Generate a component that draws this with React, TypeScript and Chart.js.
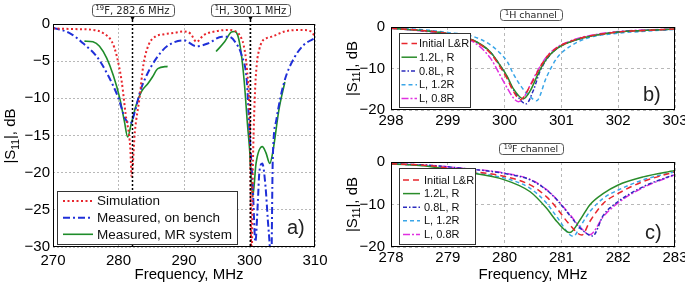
import { useEffect, useRef } from "react";
import { Chart, registerables } from "chart.js";

Chart.register(...registerables);

// ================= Panel a) =================
const simFreq = [270, 272, 274, 276.2, 277.7, 279.0, 279.7, 280.5, 281.1, 281.8, 282.0, 282.5, 283.2, 283.8, 284.6, 285.6, 286.8, 288.5, 289.9, 291.0, 291.9, 293.0, 294.7, 296.8, 297.8, 298.3, 298.8, 299.1, 299.6, 300.0, 300.15, 300.3, 300.5, 300.8, 301.1, 301.5, 301.9, 302.6, 303.4, 305.4, 307.7, 309.4, 310];
const simDb = [-0.6, -0.65, -0.7, -0.8, -1.25, -2.4, -4.2, -7.8, -12.2, -16.7, -20.5, -14.5, -10, -5.5, -2.8, -1.7, -1.4, -1.2, -1.0, -1.3, -2.4, -1.5, -1.0, -0.8, -0.95, -1.25, -2.0, -2.8, -6, -12.2, -20, -34, -20, -10, -5.5, -3.4, -2.4, -1.9, -1.7, -1.0, -0.8, -1.0, -1.7];

const benchFreq = [270, 272.6, 274.6, 276.7, 278.4, 280.0, 281.0, 281.8, 282.5, 283.3, 284.3, 285.8, 287.4, 290.0, 291.9, 293.7, 295.8, 296.8, 297.8, 298.8, 299.6, 300.0, 300.5, 300.9, 301.27, 301.5, 301.95, 302.45, 302.8, 303.1, 303.3, 303.55, 304.1, 305.3, 306.8, 308.3, 310];
const benchDb = [-0.5, -1.25, -2.6, -4.4, -6.9, -10, -12.7, -13.4, -11.8, -9.1, -6.9, -4.6, -3.0, -2.2, -3.0, -2.6, -1.7, -1.7, -2.4, -4.2, -7.8, -14.5, -21.9, -29.3, -24, -20, -18.75, -21.9, -26.4, -30, -34, -18.3, -12.9, -7.8, -4.6, -2.8, -1.9];

const mrFreq = [274.8, 276.1, 277.1, 278.2, 279.2, 280.2, 280.9, 281.4, 281.9, 282.7, 283.5, 284.5, 285.2, 286.0, 287.5, 291.0, 294.9, 296.2, 297.2, 297.7, 298.2, 298.7, 299.2, 299.7, 300.0, 300.5, 301.0, 301.95, 302.5, 303.1, 303.6, 304.5, 305.4];
const mrDb = [-2.3, -2.4, -3.0, -4.6, -6.9, -10, -13.1, -15.2, -13.6, -10.9, -9.1, -8.0, -7.1, -6.0, -5.7, null, -3.7, -2.4, -1.1, -1.0, -1.5, -3.7, -7.8, -13.6, -16.7, -23.2, -18.75, -16.5, -17.3, -18.75, -17, -11.5, -7.8];

const seriesLabelsA = ["Simulation", "Measured, on bench", "Measured, MR system"];
const markerFreq = [282.0, 300.1];
const markerIsotope = ["19", "1"];
const markerText = ["F, 282.6 MHz", "H, 300.1 MHz"];
const xTicksA = [270, 280, 290, 300, 310];
const yTicksA = [0, -5, -10, -15, -20, -25, -30];

// ================= Panel b) 1H channel =================
const seriesLabelsBC = ["Initial L&R", "1.2L, R", "0.8L, R", "L, 1.2R", "L, 0.8R"];

const hInitF = [298, 298.5, 299, 299.45, 299.75, 299.92, 300.05, 300.15, 300.28, 300.45, 300.62, 300.75, 300.92, 301.15, 301.45, 302, 302.5, 303];
const hInitDb = [-0.3, -0.8, -1.6, -3.3, -6.3, -9.6, -12.6, -15.4, -17.5, -14.2, -9.8, -7.1, -5.0, -3.5, -2.3, -1.2, -0.8, -0.5];
const h12LF = [298, 298.5, 299, 299.45, 299.75, 299.92, 300.05, 300.15, 300.33, 300.45, 300.62, 300.75, 300.92, 301.15, 301.45, 302, 302.5, 303];
const h12LDb = [-0.3, -0.8, -1.6, -3.2, -6.0, -9.2, -12.0, -14.8, -17.3, -15.4, -10.4, -7.5, -5.2, -3.6, -2.4, -1.2, -0.8, -0.5];
const h08LF = [298, 298.5, 299, 299.45, 299.75, 299.92, 300.05, 300.15, 300.38, 300.5, 300.62, 300.75, 300.92, 301.15, 301.45, 302, 302.5, 303];
const h08LDb = [-0.3, -0.8, -1.6, -3.2, -6.1, -9.3, -12.2, -15.0, -18.5, -15.5, -10.8, -7.6, -5.2, -3.6, -2.4, -1.2, -0.8, -0.5];
const h12RF = [298, 298.5, 299, 299.45, 299.75, 299.92, 300.05, 300.15, 300.3, 300.45, 300.56, 300.74, 300.92, 301.15, 301.45, 302, 302.5, 303];
const h12RDb = [-0.3, -0.6, -1.3, -2.3, -4.3, -6.3, -8.4, -11.2, -14.5, -16.8, -17.8, -12.0, -7.5, -4.7, -2.7, -1.5, -1.0, -0.6];
const h08RF = [298, 298.5, 299, 299.45, 299.75, 299.92, 300.05, 300.15, 300.24, 300.32, 300.45, 300.62, 300.75, 300.92, 301.15, 301.45, 302, 302.5, 303];
const h08RDb = [-0.3, -0.9, -1.8, -3.6, -7.5, -11.6, -14.8, -17.0, -18.0, -17.4, -14.0, -9.6, -7.0, -4.9, -3.4, -2.2, -1.1, -0.7, -0.5];
const xTicksB = [298, 299, 300, 301, 302, 303];
const yTicksB = [0, -10, -20];

// ================= Panel c) 19F channel =================
const fInitF = [278, 278.7, 279.27, 280, 280.45, 280.74, 280.92, 281.15, 281.36, 281.5, 281.74, 282, 282.44, 283];
const fInitDb = [-0.4, -0.9, -2.0, -3.4, -5.4, -8.2, -10.9, -14.8, -17.2, -14.0, -9.7, -7.4, -4.6, -2.3];
const f12LF = [278, 278.7, 279.27, 280, 280.45, 280.74, 280.92, 281.15, 281.33, 281.5, 281.74, 282, 282.44, 283];
const f12LDb = [-0.4, -1.1, -2.3, -4.2, -7.0, -10.9, -14.0, -16.6, -13.6, -10.1, -7.4, -5.4, -3.5, -2.0];
const f08LF = [278, 278.7, 279.27, 280, 280.45, 280.74, 280.92, 281.15, 281.35, 281.55, 281.74, 282, 282.44, 283];
const f08LDb = [-0.4, -0.8, -1.5, -2.7, -4.2, -6.6, -8.9, -12.6, -15.8, -17.4, -12.5, -9.3, -5.8, -2.9];
const f12RF = [278, 278.7, 279.27, 280, 280.45, 280.74, 280.92, 281.21, 281.33, 281.5, 281.74, 282, 282.44, 283];
const f12RDb = [-0.4, -1.0, -2.2, -3.8, -6.2, -9.7, -12.9, -17.5, -15.2, -11.7, -8.5, -6.6, -4.2, -2.3];
const f08RF = [278, 278.7, 279.27, 280, 280.45, 280.74, 280.92, 281.15, 281.35, 281.5, 281.74, 282, 282.44, 283];
const f08RDb = [-0.4, -0.8, -1.5, -2.6, -4.1, -6.5, -8.8, -12.4, -15.6, -17.1, -12.8, -9.6, -6.0, -3.0];
const xTicksC = [278, 279, 280, 281, 282, 283];
const yTicksC = [0, -10, -20];

// ================= helpers =================
const FONT = "'Liberation Sans', Arial, Helvetica, sans-serif";
const BOXFONT = "'DejaVu Sans', Verdana, sans-serif";

const pts = (xs: number[], ys: (number | null)[]) => xs.map((x, i) => ({ x, y: ys[i] }));
const fmtTick = (v: any) => (Number(v) < 0 ? "\u2212" + Math.abs(Number(v)) : String(v));

function makeScale(min: number, max: number, ticks: number[], horizontal: boolean, fit: number, pad: number, dash: number[]) {
  return {
    type: "linear",
    min,
    max,
    afterBuildTicks: (s: any) => {
      s.ticks = ticks.map((v) => ({ value: v }));
    },
    afterFit: (s: any) => {
      if (horizontal) s.height = fit;
      else s.width = fit;
      s.paddingLeft = 0;
      s.paddingRight = 0;
      s.paddingTop = 0;
      s.paddingBottom = 0;
    },
    ticks: { padding: pad, color: "#000", font: { family: FONT, size: 15 }, callback: fmtTick, maxRotation: 0, autoSkip: false },
    grid: { color: "#b8b8b8", lineWidth: 1, drawTicks: false },
    border: { display: false, dash },
  };
}

function roundRect(ctx: CanvasRenderingContext2D, x: number, y: number, w: number, h: number, r: number) {
  ctx.beginPath();
  ctx.moveTo(x + r, y);
  ctx.lineTo(x + w - r, y);
  ctx.arcTo(x + w, y, x + w, y + r, r);
  ctx.lineTo(x + w, y + h - r);
  ctx.arcTo(x + w, y + h, x + w - r, y + h, r);
  ctx.lineTo(x + r, y + h);
  ctx.arcTo(x, y + h, x, y + h - r, r);
  ctx.lineTo(x, y + r);
  ctx.arcTo(x, y, x + r, y, r);
  ctx.closePath();
}

function isoLabel(ctx: CanvasRenderingContext2D, iso: string, text: string, cx: number, cy: number, size: number, padX: number, h: number) {
  const small = `${size * 0.68}px ${BOXFONT}`;
  const big = `${size}px ${BOXFONT}`;
  ctx.font = small;
  const w1 = ctx.measureText(iso).width;
  ctx.font = big;
  const w2 = ctx.measureText(text).width;
  const bw = w1 + w2 + padX * 2;
  ctx.save();
  roundRect(ctx, Math.round(cx - bw / 2) + 0.5, Math.round(cy - h / 2) + 0.5, Math.round(bw), h, 3);
  ctx.fillStyle = "#fff";
  ctx.fill();
  ctx.strokeStyle = "#555";
  ctx.lineWidth = 1;
  ctx.setLineDash([]);
  ctx.stroke();
  ctx.fillStyle = "#222";
  ctx.textAlign = "left";
  ctx.textBaseline = "alphabetic";
  const x0 = cx - (w1 + w2) / 2;
  const base = cy + size * 0.36;
  ctx.font = small;
  ctx.fillText(iso, x0, base - size * 0.36);
  ctx.font = big;
  ctx.fillText(text, x0 + w1, base);
  ctx.restore();
}

function yTitle(ctx: CanvasRenderingContext2D, x: number, y: number, size: number) {
  const f1 = `${size}px ${FONT}`;
  const f2 = `${size * 0.68}px ${FONT}`;
  ctx.font = f1;
  const a = ctx.measureText("|S").width;
  const c = ctx.measureText("|, dB").width;
  ctx.font = f2;
  const b = ctx.measureText("11").width;
  const total = a + b + c;
  ctx.save();
  ctx.translate(x, y);
  ctx.rotate(-Math.PI / 2);
  ctx.fillStyle = "#000";
  ctx.textAlign = "left";
  ctx.textBaseline = "alphabetic";
  let p = -total / 2;
  ctx.font = f1;
  ctx.fillText("|S", p, 0);
  p += a;
  ctx.font = f2;
  ctx.fillText("11", p, size * 0.24);
  p += b;
  ctx.font = f1;
  ctx.fillText("|, dB", p, 0);
  ctx.restore();
}

type PanelCfg = {
  yTitle: { x: number; y: number };
  xTitle?: { x: number; y: number };
  legend: { left: number; top: number; w: number; h: number; rows: number[]; s0: number; s1: number; tx: number; size: number };
  letter: { text: string; x: number; y: number; size: number };
  markers?: boolean;
  channel?: { iso: string; text: string; cx: number; cy: number };
};

function panelPlugin(cfg: PanelCfg) {
  return {
    id: "panelDecor",
    afterDatasetsDraw(chart: any) {
      if (!cfg.markers) return;
      const { ctx, chartArea: ca, scales } = chart;
      markerFreq.forEach((f, i) => {
        const x = Math.round(scales.x.getPixelForValue(f)) + 0.5;
        ctx.save();
        ctx.strokeStyle = "#000";
        ctx.lineWidth = 1.5;
        ctx.setLineDash([2, 2]);
        ctx.beginPath();
        ctx.moveTo(x, 20);
        ctx.lineTo(x, ca.bottom);
        ctx.stroke();
        ctx.setLineDash([]);
        ctx.fillStyle = "#000";
        ctx.beginPath();
        ctx.moveTo(x - 2.5, 16);
        ctx.lineTo(x + 2.5, 16);
        ctx.lineTo(x, 21);
        ctx.closePath();
        ctx.fill();
        ctx.restore();
        isoLabel(ctx, markerIsotope[i], markerText[i], x, 10, 10, 4, 12);
      });
    },
    afterDraw(chart: any) {
      const { ctx, chartArea: ca } = chart;
      // legend
      const L = cfg.legend;
      ctx.save();
      ctx.fillStyle = "#fff";
      ctx.fillRect(L.left + 0.5, L.top + 0.5, L.w, L.h);
      ctx.strokeStyle = "#333";
      ctx.lineWidth = 1;
      ctx.setLineDash([]);
      ctx.strokeRect(L.left + 0.5, L.top + 0.5, L.w, L.h);
      chart.data.datasets.forEach((ds: any, i: number) => {
        const yy = L.rows[i];
        ctx.strokeStyle = ds.borderColor;
        ctx.lineWidth = ds.borderWidth;
        ctx.setLineDash(ds.borderDash || []);
        ctx.beginPath();
        ctx.moveTo(L.s0, yy);
        ctx.lineTo(L.s1, yy);
        ctx.stroke();
        ctx.setLineDash([]);
        ctx.fillStyle = "#111";
        ctx.font = `${L.size}px ${FONT}`;
        ctx.textAlign = "left";
        ctx.textBaseline = "middle";
        ctx.fillText(ds.label, L.tx, yy + 0.5);
      });
      // panel letter
      ctx.fillStyle = "#222";
      ctx.font = `${cfg.letter.size}px ${FONT}`;
      ctx.textAlign = "left";
      ctx.textBaseline = "alphabetic";
      ctx.fillText(cfg.letter.text, cfg.letter.x, cfg.letter.y);
      // frame
      ctx.strokeStyle = "#000";
      ctx.lineWidth = 1;
      ctx.strokeRect(Math.round(ca.left) + 0.5, Math.round(ca.top) + 0.5, Math.round(ca.right - ca.left) - 1, Math.round(ca.bottom - ca.top) - 1);
      ctx.restore();
      // axis titles
      yTitle(ctx, cfg.yTitle.x, cfg.yTitle.y, 15);
      if (cfg.xTitle) {
        ctx.save();
        ctx.fillStyle = "#000";
        ctx.font = `15px ${FONT}`;
        ctx.textAlign = "center";
        ctx.textBaseline = "alphabetic";
        ctx.fillText("Frequency, MHz", cfg.xTitle.x, cfg.xTitle.y);
        ctx.restore();
      }
      if (cfg.channel) {
        isoLabel(ctx, cfg.channel.iso, cfg.channel.text, cfg.channel.cx, cfg.channel.cy, 9.5, 5, 11);
      }
    },
  };
}

function baseOptions(padding: any, scales: any) {
  return {
    animation: false,
    responsive: false,
    maintainAspectRatio: false,
    layout: { padding },
    plugins: { legend: { display: false }, tooltip: { enabled: false }, title: { display: false } },
    elements: { point: { radius: 0 }, line: { cubicInterpolationMode: "monotone" } },
    scales,
  };
}

function line(label: string, data: any[], color: string, width: number, dash: number[]) {
  return { label, data, borderColor: color, backgroundColor: color, borderWidth: width, borderDash: dash, pointRadius: 0, fill: false, spanGaps: false };
}

function configA() {
  return {
    type: "line",
    data: {
      datasets: [
        line(seriesLabelsA[0], pts(simFreq, simDb), "#e8262d", 2, [2, 2.5]),
        line(seriesLabelsA[1], pts(benchFreq, benchDb), "#1f2fd8", 2, [7, 3, 2, 3]),
        line(seriesLabelsA[2], pts(mrFreq, mrDb), "#1e8c2a", 1.6, []),
      ],
    },
    options: baseOptions(
      { top: 24, right: 25, left: 0, bottom: 0 },
      {
        x: makeScale(270, 310, xTicksA, true, 37, 5, [2, 2]),
        y: makeScale(-30, 0, yTicksA, false, 53, 3, [2, 2]),
      }
    ),
    plugins: [
      panelPlugin({
        yTitle: { x: 15, y: 136 },
        xTitle: { x: 189, y: 279 },
        legend: { left: 57, top: 191, w: 180, h: 53, rows: [201, 217.7, 234.3], s0: 63, s1: 93, tx: 97, size: 13.5 },
        letter: { text: "a)", x: 287, y: 234, size: 20 },
        markers: true,
      }),
    ],
  };
}

const bcColors = ["#e8262d", "#2a8c2a", "#2b2bbd", "#3aa6e8", "#e030e0"];
const bcDash = [[6, 4], [], [4, 2, 1.5, 2], [4, 3], [7, 2, 2, 2]];

function configB() {
  const sets = [pts(hInitF, hInitDb), pts(h12LF, h12LDb), pts(h08LF, h08LDb), pts(h12RF, h12RDb), pts(h08RF, h08RDb)];
  return {
    type: "line",
    data: { datasets: sets.map((d, i) => line(seriesLabelsBC[i], d, bcColors[i], 1.5, bcDash[i])) },
    options: baseOptions(
      { top: 27, right: 10, left: 0, bottom: 0 },
      {
        x: makeScale(298, 303, xTicksB, true, 32, 2, [3, 3]),
        y: makeScale(-20, 0, yTicksB, false, 51, 6, [3, 3]),
      }
    ),
    plugins: [
      panelPlugin({
        yTitle: { x: 16.7, y: 68.5 },
        legend: { left: 59, top: 33, w: 71, h: 74, rows: [43.5, 57.2, 71, 84.7, 98.5], s0: 61.5, s1: 77, tx: 79, size: 11 },
        letter: { text: "b)", x: 303, y: 101, size: 20 },
        channel: { iso: "1", text: "H channel", cx: 191, cy: 14.5 },
      }),
    ],
  };
}

function configC() {
  const sets = [pts(fInitF, fInitDb), pts(f12LF, f12LDb), pts(f08LF, f08LDb), pts(f12RF, f12RDb), pts(f08RF, f08RDb)];
  return {
    type: "line",
    data: { datasets: sets.map((d, i) => line(seriesLabelsBC[i], d, bcColors[i], 1.5, bcDash[i])) },
    options: baseOptions(
      { top: 20, right: 10, left: 0, bottom: 0 },
      {
        x: makeScale(278, 283, xTicksC, true, 37, 2, [3, 3]),
        y: makeScale(-20, 0, yTicksC, false, 51, 6, [3, 3]),
      }
    ),
    plugins: [
      panelPlugin({
        yTitle: { x: 16.7, y: 62.5 },
        xTitle: { x: 193, y: 137 },
        legend: { left: 59, top: 26, w: 76, h: 76, rows: [38, 51.6, 65.2, 78.8, 92.4], s0: 63, s1: 80, tx: 84, size: 11 },
        letter: { text: "c)", x: 305, y: 97, size: 20 },
        channel: { iso: "19", text: "F channel", cx: 191, cy: 6.5 },
      }),
    ],
  };
}

function Panel({ left, top, width, height, make }: { left: number; top: number; width: number; height: number; make: () => any }) {
  const ref = useRef<HTMLCanvasElement>(null);
  useEffect(() => {
    const chart = new Chart(ref.current as HTMLCanvasElement, make());
    return () => chart.destroy();
  }, []);
  return <canvas ref={ref} width={width} height={height} style={{ position: "absolute", left, top, width, height }} />;
}

export default function App() {
  return (
    <div style={{ position: "fixed", left: 0, top: 0, width: 685, height: 284, background: "#fff", overflow: "hidden" }}>
      <Panel left={0} top={0} width={340} height={284} make={configA} />
      <Panel left={340} top={0} width={345} height={142} make={configB} />
      <Panel left={340} top={142} width={345} height={142} make={configC} />
    </div>
  );
}
